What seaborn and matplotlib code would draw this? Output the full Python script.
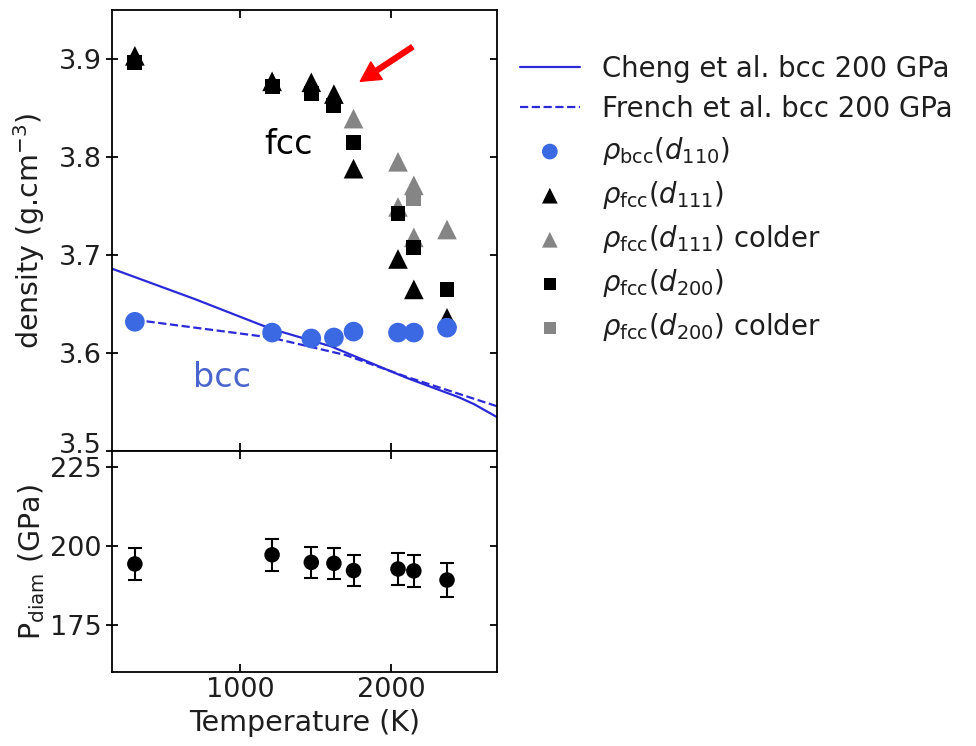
import numpy as np
import pandas as pd
import matplotlib
matplotlib.use("Agg")
import matplotlib.pyplot as plt
import matplotlib.transforms as mtransforms
import seaborn as sns

# ---- data ----
T = [300, 1210, 1470, 1620, 1750, 2045, 2150, 2370]
rho_bcc_110 = [3.632, 3.621, 3.615, 3.616, 3.622, 3.621, 3.621, 3.626]
rho_fcc_111 = [3.903, 3.877, 3.876, 3.864, 3.788, 3.696, 3.665, 3.636]
rho_fcc_200 = [3.896, 3.872, 3.865, 3.852, 3.815, 3.742, 3.708, 3.665]
T_cold_111 = [1750, 2045, 2045, 2150, 2150, 2370]
rho_fcc_111_cold = [3.839, 3.795, 3.749, 3.771, 3.718, 3.726]
T_cold_200 = [2150]
rho_fcc_200_cold = [3.758]
P_diam = [194.3, 197.2, 194.8, 194.5, 192.2, 192.7, 192.1, 189.2]
P_err = [5.0, 5.0, 5.0, 5.0, 5.0, 5.0, 5.0, 5.5]

T_cheng = [150, 700, 1200, 1600, 2100, 2450, 2550, 2700]
rho_cheng = [3.686, 3.655, 3.625, 3.607, 3.575, 3.555, 3.548, 3.535]
T_french = [300, 1200, 1700, 2100, 2700]
rho_french = [3.634, 3.616, 3.598, 3.576, 3.546]

sns.set_theme(style="ticks")
plt.rcParams['font.family'] = ['DejaVu Sans']
plt.rcParams['text.color'] = '#1e1e1e'
plt.rcParams['axes.labelcolor'] = '#1e1e1e'
FS_TICK = 19.5
FS_LAB = 20.5
FS_LEG = 19.8

fig = plt.figure(figsize=(9.76, 7.46), dpi=100)
gs = fig.add_gridspec(2, 1, height_ratios=[2, 1], hspace=0,
                      left=0.115, right=0.509, top=0.987, bottom=0.099)
ax1 = fig.add_subplot(gs[0])
ax2 = fig.add_subplot(gs[1], sharex=ax1)

line_blue = '#2a2ad8'
dot_blue = '#3b68e3'
grey = '#858585'

sns.lineplot(x=T_cheng, y=rho_cheng, ax=ax1, color=line_blue, lw=1.6,
             label='Cheng et al. bcc 200 GPa', zorder=2)
sns.lineplot(x=T_french, y=rho_french, ax=ax1, color=line_blue, lw=1.6,
             linestyle='--', label='French et al. bcc 200 GPa', zorder=2)
sns.scatterplot(x=T, y=rho_bcc_110, ax=ax1, color=dot_blue, marker='o', s=200,
                edgecolor='none', label=r'$\rho_{\rm bcc}(d_{110})$', zorder=6)
sns.scatterplot(x=T, y=rho_fcc_111, ax=ax1, color='black', marker='^', s=200,
                edgecolor='none', label=r'$\rho_{\rm fcc}(d_{111})$', zorder=4)
sns.scatterplot(x=T_cold_111, y=rho_fcc_111_cold, ax=ax1, color=grey, marker='^', s=200,
                edgecolor='none', label=r'$\rho_{\rm fcc}(d_{111})$ colder', zorder=3)
sns.scatterplot(x=T, y=rho_fcc_200, ax=ax1, color='black', marker='s', s=115,
                edgecolor='none', label=r'$\rho_{\rm fcc}(d_{200})$', zorder=5)
sns.scatterplot(x=T_cold_200, y=rho_fcc_200_cold, ax=ax1, color=grey, marker='s', s=115,
                edgecolor='none', label=r'$\rho_{\rm fcc}(d_{200})$ colder', zorder=3)

ax1.text(1320, 3.813, 'fcc', fontsize=24, color='black', ha='center', va='center')
ax1.text(880, 3.575, 'bcc', fontsize=24, color='#4a66cc', ha='center', va='center')
ax1.annotate('', xy=(1795, 3.877), xytext=(2140, 3.912),
             arrowprops=dict(facecolor='red', edgecolor='red', width=3.5,
                             headwidth=15, headlength=14))

ax1.set_xlim(150, 2700)
ax1.set_ylim(3.5, 3.95)
ax1.set_yticks([3.5, 3.6, 3.7, 3.8, 3.9])
ax1.set_ylabel(r'density (g.cm$^{-3}$)', fontsize=FS_LAB, labelpad=2)
ax1.set_xlabel('')

handles, labels = ax1.get_legend_handles_labels()
ax1.get_legend().remove()
fig.legend(handles, labels, loc='upper left', bbox_to_anchor=(0.507, 0.96),
           frameon=False, fontsize=FS_LEG, handlelength=2.2, handletextpad=0.8,
           labelspacing=0.44, markerscale=0.8)

ax2.errorbar(T, P_diam, yerr=P_err, fmt='none', ecolor='black', elinewidth=1.5,
             capsize=5, capthick=1.5, zorder=2)
sns.scatterplot(x=T, y=P_diam, ax=ax2, color='black', marker='o', s=125,
                edgecolor='none', zorder=3)
ax2.set_ylim(160, 230)
ax2.set_yticks([175, 200, 225])
ax2.set_xticks([1000, 2000])
ax2.set_xlabel('Temperature (K)', fontsize=FS_LAB)
ax2.set_ylabel(r'P$_{\rm diam}$ (GPa)', fontsize=FS_LAB, labelpad=2)

for ax in (ax1, ax2):
    for sp in ax.spines.values():
        sp.set_linewidth(1.3)
        sp.set_color('black')
    ax.tick_params(axis='x', which='both', direction='in', top=True, bottom=True,
                   length=6, width=1.3, labelsize=FS_TICK, colors='black',
                   labelcolor='#1e1e1e')
    ax.yaxis.set_ticks_position('both')
    ax.tick_params(axis='y', which='both', direction='inout', length=8, width=1.3,
                   labelsize=FS_TICK, colors='black', labelcolor='#1e1e1e')
plt.setp(ax1.get_xticklabels(), visible=False)

for ax in (ax1, ax2):
    for t in ax.yaxis.get_major_ticks():
        t.tick2line.set_marker(matplotlib.lines.TICKLEFT)
        t.tick2line.set_markersize(5)

fig.canvas.draw()
# lift lowest density tick label slightly, as in the reference
lab = ax1.get_yticklabels()[0]
lab.set_transform(lab.get_transform() +
                  mtransforms.ScaledTranslation(0, 8 / 100, fig.dpi_scale_trans))

fig.align_ylabels([ax1, ax2])
fig.savefig('out.png', dpi=100)
